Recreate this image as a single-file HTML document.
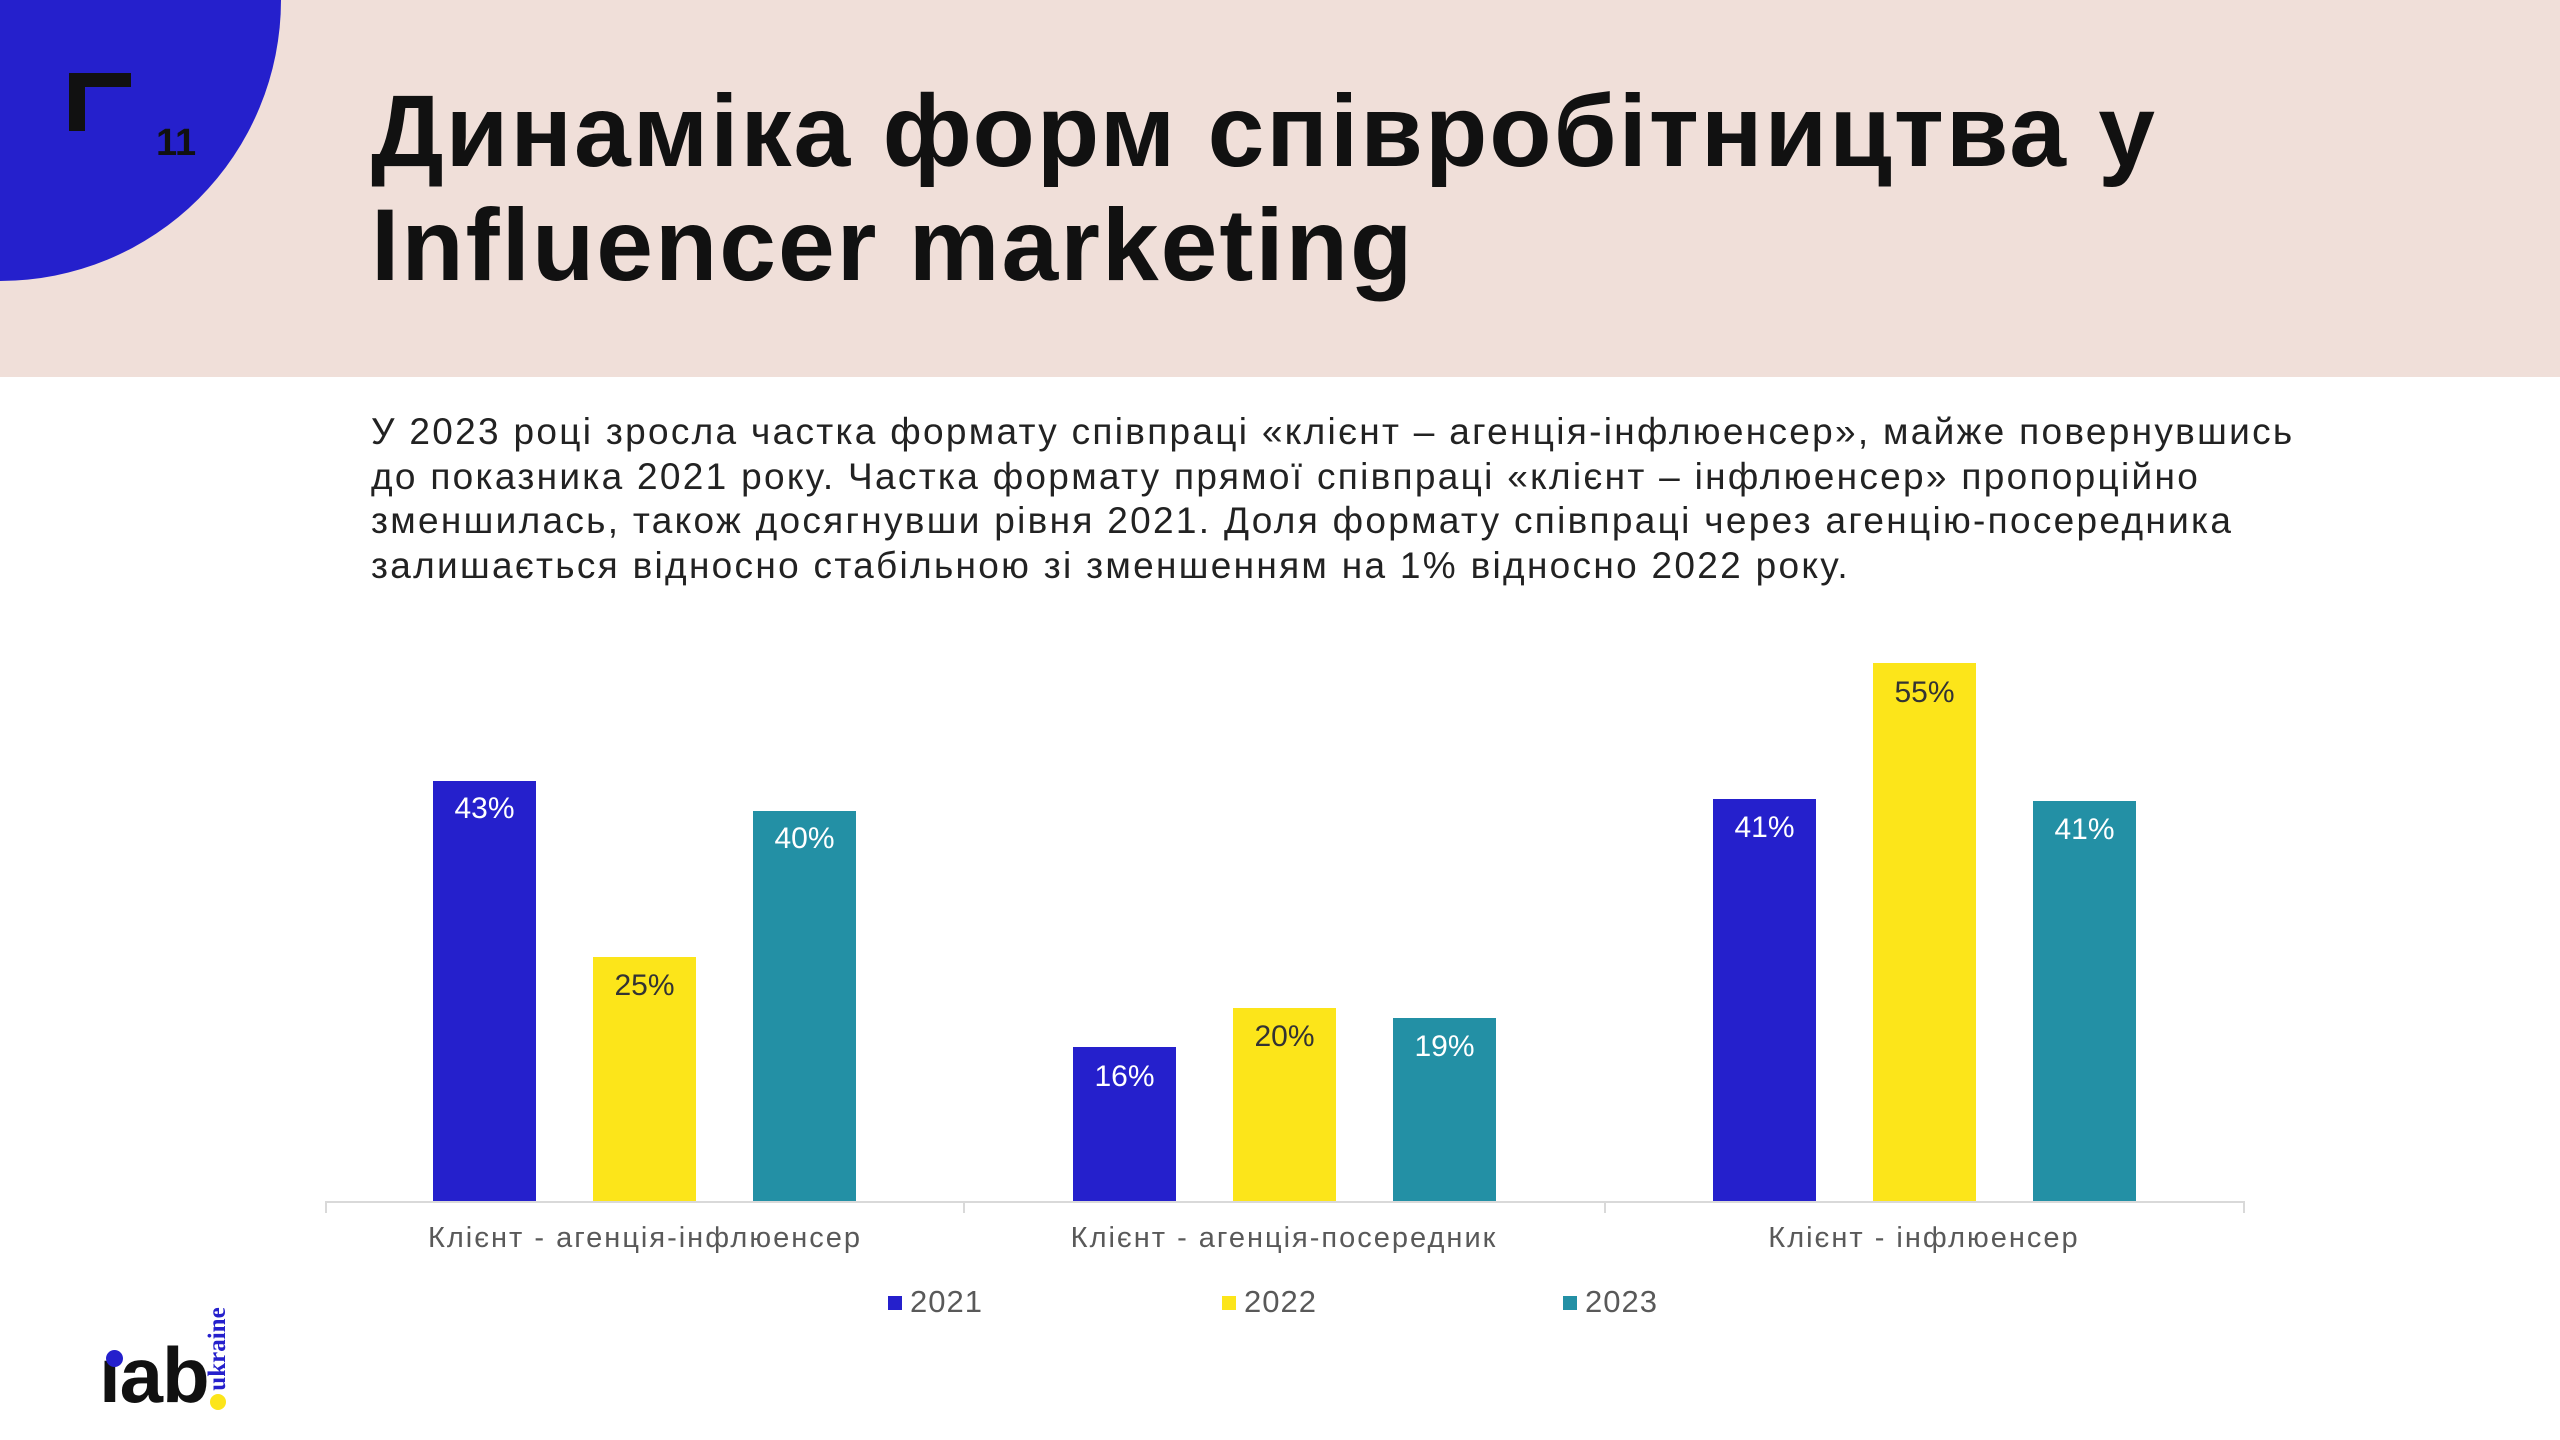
<!DOCTYPE html>
<html><head><meta charset="utf-8"><style>
body{margin:0;width:2560px;height:1440px;background:#fff;position:relative;overflow:hidden;font-family:"Liberation Sans",sans-serif}
.a{position:absolute}
.hdr{left:0;top:0;width:2560px;height:377px;background:#f0dfd9}
.circ{left:-281px;top:-281px;width:562px;height:562px;border-radius:50%;background:#2520cc}
.t{left:371px;font-weight:bold;font-size:102px;color:#111;white-space:nowrap;line-height:1;letter-spacing:2px}
.p{left:371px;top:410px;font-size:37px;letter-spacing:2.3px;line-height:44.7px;color:#222;white-space:nowrap}
.bar{position:absolute;width:103px}
.lbl{position:absolute;width:103px;text-align:center;font-size:30px}
.cat{position:absolute;top:1222px;font-size:29px;color:#595959;text-align:center;width:640px;letter-spacing:2px}
.leg{position:absolute;top:1284px;font-size:31px;color:#595959;letter-spacing:1px}
.sq{display:inline-block;width:14px;height:14px;margin-right:8px;vertical-align:2px}
</style></head><body>
<div class="a hdr"></div>
<div class="a circ"></div>
<div class="a" style="left:69px;top:73px;width:62px;height:14px;background:#111"></div>
<div class="a" style="left:69px;top:73px;width:16px;height:58px;background:#111"></div>
<div class="a" style="left:156px;top:122px;font-size:38px;font-weight:bold;color:#111">11</div>
<div class="a t" style="top:80px">Динаміка форм співробітництва у</div>
<div class="a t" style="top:194px">Influencer marketing</div>
<div class="a p">У 2023 році зросла частка формату співпраці «клієнт – агенція-інфлюенсер», майже повернувшись<br>до показника 2021 року. Частка формату прямої співпраці «клієнт – інфлюенсер» пропорційно<br>зменшилась, також досягнувши рівня 2021. Доля формату співпраці через агенцію-посередника<br>залишається відносно стабільною зі зменшенням на 1% відносно 2022 року.</div>
<div class="a" style="left:325px;top:1201px;width:1919px;height:2px;background:#d9d9d9"></div>
<div class="a" style="left:325px;top:1201px;width:2px;height:12px;background:#d9d9d9"></div>
<div class="a" style="left:963px;top:1201px;width:2px;height:12px;background:#d9d9d9"></div>
<div class="a" style="left:1604px;top:1201px;width:2px;height:12px;background:#d9d9d9"></div>
<div class="a" style="left:2243px;top:1201px;width:2px;height:12px;background:#d9d9d9"></div>

<div class="bar" style="left:433px;top:781px;height:420px;background:#2520cc"></div><div class="lbl" style="left:433px;top:792px;color:#fff">43%</div>
<div class="bar" style="left:593px;top:957px;height:244px;background:#fce51a"></div><div class="lbl" style="left:593px;top:969px;color:#333">25%</div>
<div class="bar" style="left:753px;top:811px;height:390px;background:#2390a5"></div><div class="lbl" style="left:753px;top:822px;color:#fff">40%</div>

<div class="bar" style="left:1073px;top:1047px;height:154px;background:#2520cc"></div><div class="lbl" style="left:1073px;top:1060px;color:#fff">16%</div>
<div class="bar" style="left:1233px;top:1008px;height:193px;background:#fce51a"></div><div class="lbl" style="left:1233px;top:1020px;color:#333">20%</div>
<div class="bar" style="left:1393px;top:1018px;height:183px;background:#2390a5"></div><div class="lbl" style="left:1393px;top:1030px;color:#fff">19%</div>

<div class="bar" style="left:1713px;top:799px;height:402px;background:#2520cc"></div><div class="lbl" style="left:1713px;top:811px;color:#fff">41%</div>
<div class="bar" style="left:1873px;top:663px;height:538px;background:#fce51a"></div><div class="lbl" style="left:1873px;top:676px;color:#333">55%</div>
<div class="bar" style="left:2033px;top:801px;height:400px;background:#2390a5"></div><div class="lbl" style="left:2033px;top:813px;color:#fff">41%</div>

<div class="cat" style="left:325px">Клієнт - агенція-інфлюенсер</div>
<div class="cat" style="left:964px">Клієнт - агенція-посередник</div>
<div class="cat" style="left:1604px">Клієнт - інфлюенсер</div>

<div class="leg" style="left:888px"><span class="sq" style="background:#2520cc"></span>2021</div>
<div class="leg" style="left:1222px"><span class="sq" style="background:#fce51a"></span>2022</div>
<div class="leg" style="left:1563px"><span class="sq" style="background:#2390a5"></span>2023</div>

<div class="a" style="left:99px;top:1336px;font-size:78px;font-weight:bold;color:#111;letter-spacing:-1px;line-height:1">ıab</div>
<div class="a" style="left:106px;top:1350px;width:17px;height:17px;border-radius:50%;background:#2520cc"></div>
<div class="a" style="left:210px;top:1394px;width:16px;height:16px;border-radius:50%;background:#fce51a"></div>
<div class="a" style="left:168px;top:1337px;width:100px;font-family:'Liberation Serif',serif;font-weight:bold;font-size:25px;color:#2520cc;transform:rotate(-90deg);transform-origin:center;line-height:24px;text-align:center">ukraine</div>
</body></html>
